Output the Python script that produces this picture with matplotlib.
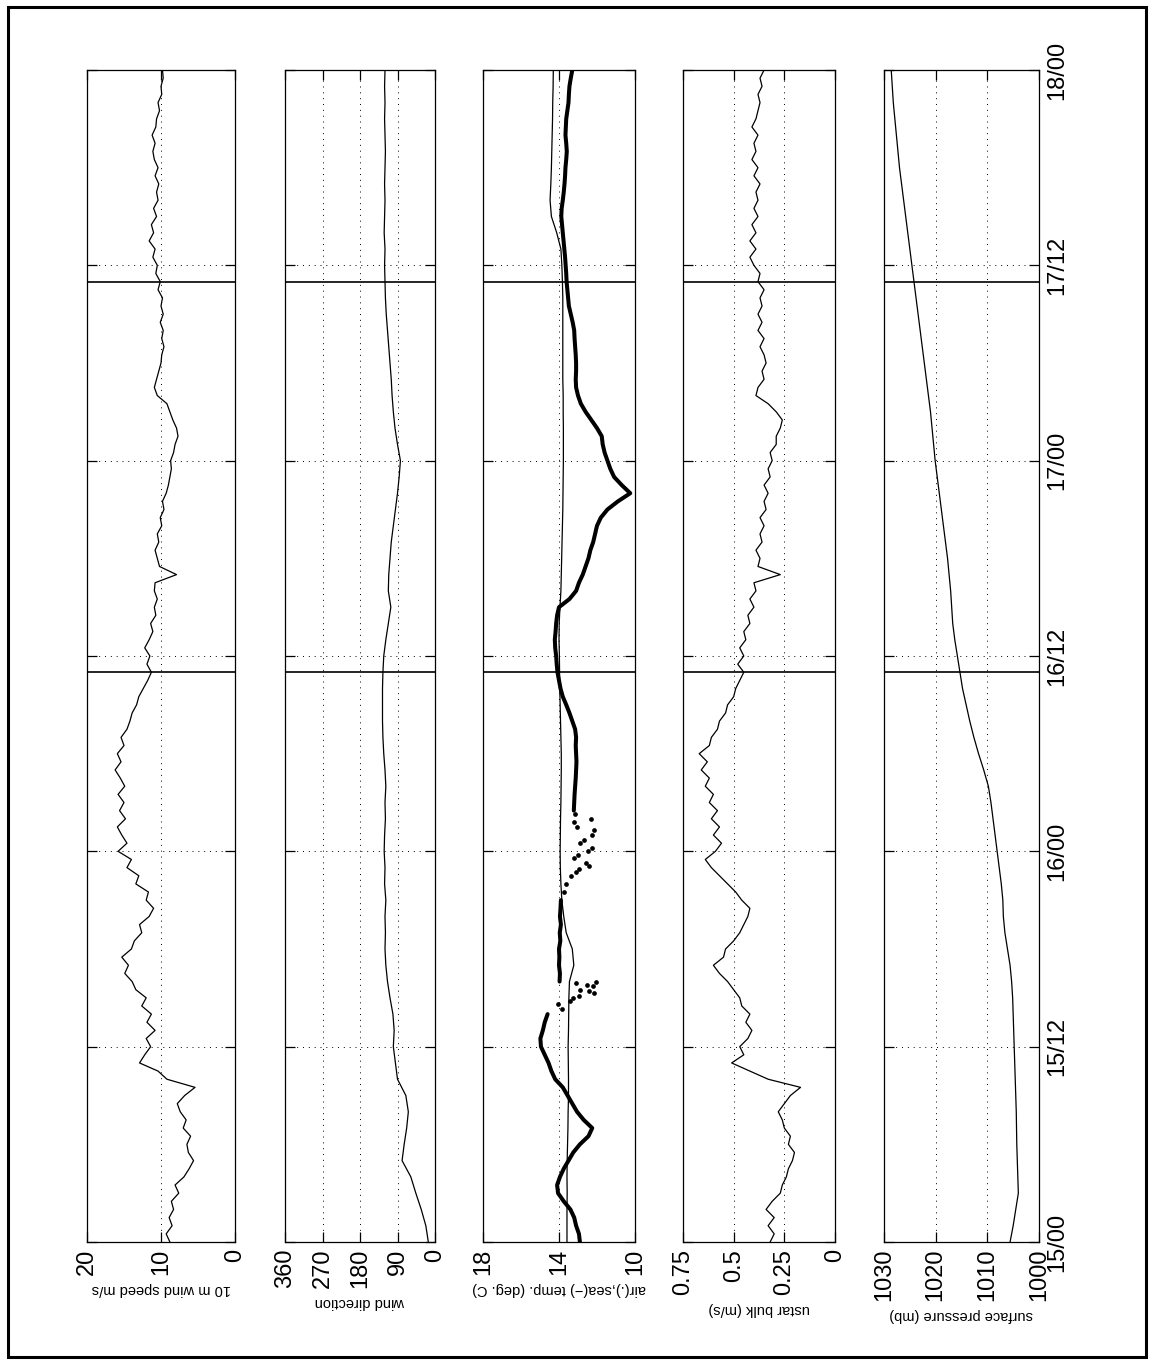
import numpy as np
import matplotlib
matplotlib.use("Agg")
import matplotlib.pyplot as plt
from matplotlib.patches import Rectangle

plt.rcParams["font.family"] = ["Liberation Sans", "DejaVu Sans"]
TICK_FONT = ["Liberation Sans Narrow", "Liberation Sans", "DejaVu Sans"]

# ---- data (hours since 15/00) ----
hours_half = np.arange(0, 72.5, 0.5)   # half-hourly series
hours_full = np.arange(0, 73, 1.0)     # hourly series

wind_speed = [
    8.8, 9.3, 8.5, 8.9, 8.3, 8.6, 7.6, 8.1, 6.9, 6.2,
    5.6, 6.3, 6.5, 6.0, 7.0, 6.6, 7.4, 7.8, 6.8, 5.4,
    9.2, 10.4, 12.9, 12.2, 11.4, 12.0, 10.8, 11.9, 11.3, 12.6,
    12.0, 13.4, 13.9, 14.9, 14.4, 15.3, 14.0, 13.6, 12.6, 12.9,
    11.6, 11.0, 12.0, 11.7, 13.4, 13.0, 14.6, 14.0, 15.8, 14.6,
    15.3, 15.9, 14.8, 15.6, 15.0, 15.8, 14.9, 15.5, 16.2, 15.4,
    15.9, 15.0, 15.4, 14.6, 14.2, 13.9, 13.3, 13.0, 12.4, 11.8,
    11.3, 11.9, 11.5, 12.2, 11.6, 11.1, 11.4, 10.7, 10.9, 10.5,
    10.9, 10.8, 7.9, 10.2, 10.5, 10.8, 10.3, 10.5, 9.9, 10.1,
    9.6, 9.8, 9.3, 9.0, 8.8, 8.6, 8.7, 8.3, 8.1, 7.7,
    7.9, 8.4, 8.8, 9.2, 10.5, 10.9, 10.6, 10.3, 10.0, 9.9,
    9.6, 9.9, 9.7, 10.1, 9.7, 10.0, 9.8, 10.4, 10.1, 10.7,
    10.5, 11.1, 10.8, 11.6, 11.0, 11.3, 10.6, 11.0, 10.4, 10.6,
    10.3, 10.8, 10.4, 10.9, 11.1, 10.8, 11.2, 10.7, 10.6, 10.2,
    10.4, 9.9, 10.0, 9.7, 9.8,
]

wind_dir = [
    16, 22, 33, 46, 58, 79, 74, 68, 64, 70,
    90, 95, 100, 98, 101, 108, 114, 118, 120, 119,
    120, 118, 121, 120, 122, 121, 119, 120, 118, 120,
    123, 125, 126, 126, 126, 125, 123, 118, 112, 106,
    112, 111, 108, 105, 100, 95, 90, 86, 83, 90,
    96, 100, 103, 105, 108, 111, 114, 117, 119, 120,
    121, 120, 122, 121, 120, 121, 120, 119, 120, 121,
    120, 121, 120,
]

sea_temp = [
    13.58, 13.58, 13.58, 13.57, 13.58, 13.57, 13.55, 13.53, 13.52, 13.50,
    13.50, 13.51, 13.52, 13.50, 13.49, 13.48, 13.45, 13.22, 13.30, 13.62,
    13.75, 13.85, 13.90, 13.93, 13.94, 13.93, 13.92, 13.90, 13.89, 13.88,
    13.88, 13.90, 13.92, 13.94, 13.96, 13.97, 13.98, 14.00, 13.99, 13.95,
    13.90, 13.88, 13.86, 13.84, 13.82, 13.80, 13.79, 13.78, 13.77, 13.77,
    13.77, 13.78, 13.78, 13.80, 13.80, 13.80, 13.80, 13.80, 13.80, 13.82,
    13.85, 13.90, 14.12, 14.40, 14.47, 14.43, 14.40, 14.38, 14.36, 14.34,
    14.33, 14.31, 14.30,
]

nan = np.nan
air_temp = [
    12.90, 12.95, 13.10, 13.20, 13.40, 13.75, 14.05, 14.10, 13.95, 13.75,
    13.50, 13.25, 12.90, 12.45, 12.25, 12.70, 13.05, 13.30, 13.55, 13.80,
    14.20, 14.40, 14.55, 14.75, 14.95, 14.98, 14.85, 14.75, 14.60, nan,
    nan, nan, 13.97, 13.95, 14.00, 13.98, 14.00, 13.93, 13.96, 13.90,
    13.95, 13.92, 13.90, nan, nan, nan, nan, nan, nan, nan,
    nan, nan, nan, 13.22, 13.20, 13.18, 13.15, 13.12, 13.10, 13.08,
    13.10, 13.12, 13.10, 13.15, 13.30, 13.45, 13.62, 13.80, 13.92, 14.00,
    14.08, 14.12, 14.15, 14.20, 14.22, 14.18, 14.15, 14.10, 14.00, 13.45,
    13.10, 12.95, 12.75, 12.60, 12.45, 12.35, 12.20, 12.10, 12.00, 11.80,
    11.45, 10.90, 10.25, 10.70, 11.10, 11.30, 11.45, 11.60, 11.70, 11.75,
    12.00, 12.30, 12.60, 12.85, 13.00, 13.10, 13.12, 13.10, 13.10, 13.12,
    13.15, 13.18, 13.20, 13.28, 13.38, 13.48, 13.52, 13.56, 13.60, 13.62,
    13.65, 13.68, 13.72, 13.76, 13.80, 13.84, 13.88, 13.86, 13.80, 13.75,
    13.71, 13.68, 13.66, 13.62, 13.59, 13.62, 13.66, 13.64, 13.62, 13.56,
    13.50, 13.48, 13.45, 13.38, 13.30,
]

# scattered air temperature samples where the record is noisy
air_scatter_hours = [14.3, 14.6, 14.8, 15.0, 15.1, 15.3, 15.4, 15.5, 15.7, 15.8, 15.9, 16.0,
                     21.5, 22.0, 22.5, 22.7, 22.9, 23.1, 23.3, 23.6, 23.8, 24.0,
                     24.2, 24.5, 24.7, 25.0, 25.3, 25.5, 25.8, 26.0, 26.3]
air_scatter_temp = [13.85, 14.05, 13.40, 13.25, 12.95, 12.15, 12.40, 12.90, 12.20, 12.55, 13.10, 12.05,
                    13.75, 13.65, 13.35, 13.10, 12.95, 12.40, 12.60, 13.20, 13.00, 12.50,
                    12.25, 12.90, 12.70, 12.25, 12.15, 13.05, 13.20, 12.30, 13.15]

ustar = [
    .32, .30, .33, .30, .34, .31, .27, .26, .24, .23,
    .21, .20, .23, .22, .25, .26, .28, .25, .22, .17,
    .33, .42, .51, .45, .47, .43, .41, .44, .42, .46,
    .47, .50, .53, .57, .60, .55, .54, .50, .47, .45,
    .43, .42, .46, .49, .53, .57, .61, .64, .59, .56,
    .60, .57, .61, .58, .62, .60, .64, .62, .66, .63,
    .67, .62, .61, .58, .57, .54, .53, .50, .49, .47,
    .45, .48, .45, .47, .44, .45, .42, .43, .40, .42,
    .39, .40, .27, .38, .37, .39, .36, .37, .35, .37,
    .34, .35, .33, .35, .32, .33, .31, .32, .29, .29,
    .27, .26, .29, .33, .39, .38, .35, .36, .34, .35,
    .37, .35, .38, .36, .38, .36, .37, .35, .38, .37,
    .40, .42, .39, .42, .39, .41, .38, .40, .38, .39,
    .37, .40, .38, .41, .39, .40, .38, .41, .39, .38,
    .37, .38, .36, .37, .35,
]

pressure = [
    1005.6, 1005.0, 1004.5, 1004.0, 1004.1, 1004.2, 1004.3, 1004.35, 1004.4, 1004.5,
    1004.6, 1004.7, 1004.8, 1004.9, 1005.0, 1005.1, 1005.3, 1005.6, 1006.1, 1006.6,
    1006.9, 1007.0, 1007.3, 1007.7, 1008.1, 1008.5, 1008.9, 1009.3, 1009.8, 1010.7,
    1011.7, 1012.6, 1013.4, 1014.1, 1014.8, 1015.3, 1015.8, 1016.3, 1016.7, 1016.9,
    1017.1, 1017.4, 1017.7, 1018.1, 1018.5, 1018.9, 1019.3, 1019.7, 1020.1, 1020.4,
    1020.7, 1021.0, 1021.4, 1021.8, 1022.2, 1022.6, 1023.0, 1023.4, 1023.8, 1024.2,
    1024.6, 1025.0, 1025.4, 1025.8, 1026.2, 1026.6, 1027.0, 1027.3, 1027.6, 1027.9,
    1028.2, 1028.4, 1028.6,
]

event_hours = [35, 59]   # solid markers just before 16/12 and 17/12

time_ticks = [0, 12, 24, 36, 48, 60, 72]
time_labels = ["15/00", "15/12", "16/00", "16/12", "17/00", "17/12", "18/00"]

speed_ticks, speed_labels = [0, 10, 20], ["0", "10", "20"]
dir_ticks, dir_labels = [0, 90, 180, 270, 360], ["0", "90", "180", "270", "360"]
temp_ticks, temp_labels = [10, 14, 18], ["10", "14", "18"]
ustar_ticks, ustar_labels = [0, 0.25, 0.5, 0.75], ["0", "0.25", "0.5", "0.75"]
press_ticks, press_labels = [1000, 1010, 1020, 1030], ["1000", "1010", "1020", "1030"]

# ---- figure: landscape page rotated onto a portrait sheet ----
W, H = 1149, 1361
fig = plt.figure(figsize=(W / 100, H / 100), dpi=100)
fig.patch.set_facecolor("white")

fig.add_artist(Rectangle((8 / W, 1 - 1357 / H), 1138 / W, 1350 / H,
                         transform=fig.transFigure, fill=False, lw=2.2, color="k"))


def panel(x0, x1, y0=70, y1=1242):
    return fig.add_axes([x0 / W, 1 - y1 / H, (x1 - x0) / W, (y1 - y0) / H])


def style(ax, lim, ticks, labels, xlabel, show_time=False):
    ax.set_xlim(lim[1], lim[0])          # values grow to the left
    ax.set_ylim(0, 72)
    ax.set_xticks(ticks)
    ax.set_xticklabels(labels, rotation=90, family=TICK_FONT, fontsize=17)
    ax.set_yticks(time_ticks)
    if show_time:
        ax.set_yticklabels(time_labels, rotation=90, va="center",
                           family=TICK_FONT, fontsize=17)
    ax.tick_params(direction="in", length=7, width=0.9, pad=5,
                   top=True, bottom=True, left=True, right=True,
                   labelleft=False, labelright=show_time)
    ax.grid(True, linestyle=(0, (1, 5)), color="k", lw=0.7)
    for s in ax.spines.values():
        s.set_linewidth(0.9)
    for h in event_hours:
        ax.axhline(h, color="k", lw=1.2)
    ax.set_xlabel(xlabel, rotation=180, fontsize=10.5, labelpad=5)


ax1 = panel(87, 235)
ax1.plot(wind_speed, hours_half, color="k", lw=0.9)
style(ax1, (0, 20), speed_ticks, speed_labels, "10 m wind speed m/s")

ax2 = panel(285, 435)
ax2.plot(wind_dir, hours_full, color="k", lw=0.9)
style(ax2, (0, 360), dir_ticks, dir_labels, "wind direction")

ax3 = panel(483, 635)
ax3.plot(sea_temp, hours_full, color="k", lw=0.9)
ax3.plot(air_temp, hours_half, color="k", lw=2.9, solid_capstyle="round")
ax3.plot(air_scatter_temp, air_scatter_hours, "o", color="k", ms=3.4, mew=0)
style(ax3, (10, 18), temp_ticks, temp_labels, "air(.),sea(\u2212) temp. (deg. C)")

ax4 = panel(683, 835)
ax4.plot(ustar, hours_half, color="k", lw=0.9)
style(ax4, (0, 0.75), ustar_ticks, ustar_labels, "ustar bulk (m/s)")

ax5 = panel(884, 1039)
ax5.plot(pressure, hours_full, color="k", lw=0.9)
style(ax5, (1000, 1030), press_ticks, press_labels, "surface pressure (mb)", show_time=True)

fig.savefig("out.png", dpi=100, facecolor="white")
